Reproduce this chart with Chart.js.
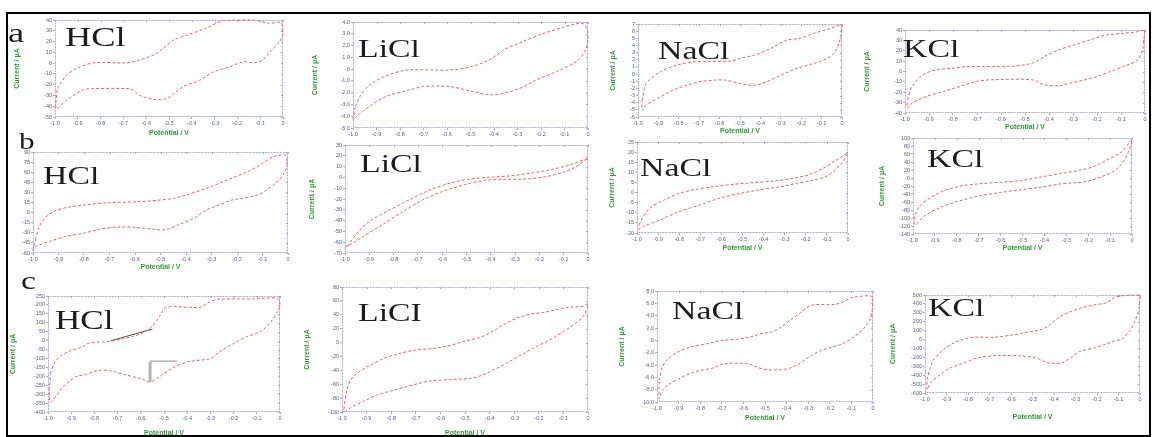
<!DOCTYPE html>
<html>
<head>
<meta charset="utf-8">
<script src="https://cdn.jsdelivr.net/npm/chart.js@4.4.0/dist/chart.umd.min.js"></script>
<style>
    html, body { margin: 0; padding: 0; background: #fff; }
    body { width: 1153px; height: 437px; position: relative; overflow: hidden; }
    #frame { position: absolute; left: 6px; top: 12px; width: 1145px; height: 425px; border: 2px solid #000; box-sizing: border-box; }
    canvas { position: absolute; }
    .tag { position: absolute; font-family: 'Liberation Serif', 'Times New Roman', serif; color: #1c1c1c;
           line-height: 1; transform: scaleX(1.3); transform-origin: 0 0; white-space: nowrap; }
</style>
</head>
<body>
<div id="frame"></div>
<script>
    'use strict';

    // potential axis, shared by every panel
    var potentialRange = [-1.0, 0, 0.1];
    var potentialLabels = ['-1.0', '-0.9', '-0.8', '-0.7', '-0.6', '-0.5', '-0.4', '-0.3', '-0.2', '-0.1', '0'];

    // current axis per panel: [min, max, step]
    var hclA_current = [-50, 40, 10];
    var liclA_current = [-5, 4, 1];
    var naclA_current = [-6, 7, 1];
    var kclA_current = [-40, 40, 10];
    var hclB_current = [-60, 90, 15];
    var liclB_current = [-70, 30, 10];
    var naclB_current = [-20, 25, 5];
    var kclB_current = [-140, 100, 20];
    var hclC_current = [-400, 250, 50];
    var liclC_current = [-100, 80, 20];
    var naclC_current = [-10, 8, 2];
    var kclC_current = [-600, 500, 100];

    // (a) forward / reverse sweeps, [potential, current]
    var hclA_up = [[-0.99, -23.6], [-0.95, -11.2], [-0.905, -5], [-0.83, 0.3], [-0.69, 0.3], [-0.63, 2.8], [-0.555, 9],
        [-0.48, 21.4], [-0.42, 26], [-0.34, 32.2], [-0.26, 39.4], [-0.13, 40], [-0.06, 37], [-0.01, 37.5], [0, 27.6]];
    var hclA_down = [[-0.015, 19.8], [-0.05, 12.1], [-0.09, 2.8], [-0.13, 0.3], [-0.175, 1.2], [-0.235, -3.5], [-0.305, -8.1],
        [-0.365, -15.9], [-0.44, -22.1], [-0.51, -32.9], [-0.57, -33.6], [-0.63, -29.8], [-0.66, -24.6], [-0.69, -23.6],
        [-0.82, -23.6], [-0.875, -24.6], [-0.905, -28.3], [-0.95, -34.5], [-0.995, -42.2]];

    var liclA_up = [[-0.99, -3.17], [-0.97, -2.33], [-0.93, -1.35], [-0.86, -0.58], [-0.77, -0.08], [-0.59, -0.08], [-0.5, 0.2],
        [-0.42, 0.77], [-0.36, 1.61], [-0.28, 2.32], [-0.19, 3.02], [-0.11, 3.52], [-0.02, 3.86], [0, 2.73]];
    var liclA_down = [[-0.01, 1.61], [-0.05, 0.63], [-0.135, -0.22], [-0.22, -0.92], [-0.29, -1.63], [-0.36, -2.05],
        [-0.42, -2.18], [-0.49, -1.9], [-0.59, -1.48], [-0.7, -1.48], [-0.77, -1.82], [-0.86, -2.33], [-0.93, -3.17],
        [-0.985, -4.02], [-1.0, -4.3]];

    var naclA_up = [[-0.98, -3.66], [-0.96, -1.32], [-0.89, 0.32], [-0.81, 1.25], [-0.73, 1.72], [-0.55, 1.81], [-0.5, 2.19],
        [-0.43, 2.65], [-0.35, 3.58], [-0.27, 4.75], [-0.205, 4.99], [-0.14, 5.69], [-0.07, 6.25], [0, 6.86]];
    var naclA_down = [[-0.01, 4.75], [-0.04, 2.88], [-0.09, 1.95], [-0.14, 1.48], [-0.22, 0.78], [-0.3, -0.15], [-0.37, -1.09],
        [-0.43, -1.56], [-0.5, -1.32], [-0.57, -0.85], [-0.63, -0.85], [-0.7, -1.09], [-0.76, -1.56], [-0.83, -2.26],
        [-0.89, -3.19], [-0.96, -4.36], [-0.98, -5.06]];

    var kclA_up = [[-0.99, -27.2], [-0.97, -14.4], [-0.925, -3.2], [-0.87, 1.6], [-0.8, 3.2], [-0.73, 4.8], [-0.57, 4.8],
        [-0.47, 8], [-0.42, 14.4], [-0.36, 20.8], [-0.295, 25.6], [-0.23, 30.4], [-0.16, 35.2], [-0.09, 36.8],
        [-0.03, 38.4], [0, 40]];
    var kclA_down = [[-0.005, 30.4], [-0.01, 20.8], [-0.03, 11.2], [-0.09, 4.8], [-0.145, 0], [-0.2, -4.8], [-0.25, -8],
        [-0.31, -11.2], [-0.36, -13.8], [-0.42, -12.8], [-0.47, -8], [-0.64, -8], [-0.705, -9.6], [-0.77, -14.4],
        [-0.84, -19.2], [-0.91, -24], [-0.97, -30.4], [-0.99, -35.2]];

    // (b)
    var hclB_up = [[-0.99, -40.3], [-0.98, -25.6], [-0.96, -10.8], [-0.92, 1.5], [-0.87, 7.4], [-0.8, 11.3], [-0.7, 14.7],
        [-0.58, 16.2], [-0.5, 18.7], [-0.45, 21.1], [-0.4, 26.1], [-0.32, 35.9], [-0.24, 48.2], [-0.16, 60.5],
        [-0.1, 72.8], [-0.06, 82.6], [-0.01, 85.1]];
    var hclB_down = [[-0.004, 70.3], [-0.02, 55.6], [-0.05, 43.3], [-0.085, 33.4], [-0.12, 26.1], [-0.18, 21.1],
        [-0.22, 18.7], [-0.27, 11.3], [-0.32, 3.9], [-0.37, -8.4], [-0.43, -18.2], [-0.48, -25.5], [-0.53, -24.6],
        [-0.61, -21.6], [-0.67, -21.6], [-0.74, -24.6], [-0.8, -30.5], [-0.87, -35.4], [-0.935, -42.8], [-0.99, -50.2],
        [-1.0, -55.1]];

    var liclB_up = [[-0.99, -63.8], [-0.95, -51.5], [-0.9, -40.8], [-0.815, -30], [-0.73, -20.2], [-0.65, -11.5],
        [-0.57, -5.4], [-0.49, -1.7], [-0.4, 0.2], [-0.32, 1.4], [-0.24, 3.8], [-0.16, 6.9], [-0.075, 11.5], [0, 17.7]];
    var liclB_down = [[-0.05, 10], [-0.1, 4.8], [-0.185, 0.2], [-0.27, -1.7], [-0.35, -1.7], [-0.43, -2.9], [-0.51, -6.9],
        [-0.6, -13.1], [-0.68, -20.8], [-0.76, -31.5], [-0.84, -42.9], [-0.925, -54.6], [-0.98, -62.3], [-1.0, -64.5]];

    var naclB_up = [[-0.99, -15.9], [-0.97, -11.8], [-0.94, -7.7], [-0.87, -3.6], [-0.8, -0.4], [-0.72, 1.6], [-0.64, 2.9],
        [-0.54, 4.1], [-0.45, 4.9], [-0.35, 5.7], [-0.26, 7], [-0.18, 9], [-0.12, 11.9], [-0.055, 16], [0, 19.6]];
    var naclB_down = [[-0.01, 17.6], [-0.03, 14.7], [-0.06, 11.4], [-0.1, 8.1], [-0.165, 6.2], [-0.245, 4.5], [-0.32, 2.9],
        [-0.42, 1.3], [-0.51, -0.4], [-0.61, -2.8], [-0.7, -6.1], [-0.8, -9.4], [-0.89, -13.5], [-0.97, -16.7],
        [-0.99, -18]];

    var kclB_up = [[-0.99, -91.5], [-0.97, -70.2], [-0.92, -49], [-0.86, -32], [-0.79, -21], [-0.71, -15], [-0.6, -10.6],
        [-0.51, -6.4], [-0.42, 2.1], [-0.33, 10.7], [-0.24, 19.1], [-0.18, 27.7], [-0.115, 44.8], [-0.05, 64.3],
        [0, 95.7]];
    var kclB_down = [[-0.01, 74.5], [-0.03, 48.9], [-0.06, 27.7], [-0.09, 14.9], [-0.145, 2.1], [-0.21, -9], [-0.27, -12.3],
        [-0.33, -15], [-0.42, -23.4], [-0.51, -29.4], [-0.6, -36.1], [-0.695, -44.7], [-0.79, -57.4], [-0.88, -74.5],
        [-0.95, -95.8], [-0.99, -117]];

    // (c)
    var hclC_up = [[-0.99, -184.8], [-0.97, -119.2], [-0.94, -81.5], [-0.905, -57.5], [-0.85, -34.7], [-0.82, -12],
        [-0.75, -6.8], [-0.69, 6.3], [-0.63, 25.1], [-0.59, 44], [-0.55, 81.7], [-0.52, 133.7], [-0.49, 186.3],
        [-0.345, 186.3], [-0.31, 212.3], [-0.27, 231.2], [-0.115, 233.1], [-0.01, 237]];
    var hclC_down = [[0, 199.3], [-0.015, 152.5], [-0.045, 96.6], [-0.085, 49.8], [-0.145, 21.2], [-0.2, -15.9],
        [-0.26, -62.6], [-0.3, -100.3], [-0.345, -109.5], [-0.4, -119.2], [-0.46, -151.1], [-0.51, -194],
        [-0.56, -231.6], [-0.6, -212.8], [-0.66, -194], [-0.73, -169.9], [-0.78, -166], [-0.835, -188.1],
        [-0.88, -203], [-0.935, -259.6], [-0.99, -344]];
    // baseline construction for the cathodic peak
    var hclC_tangent = [[-0.73, -1], [-0.55, 64.5]];
    var hclC_peakBar = [[-0.56, -119], [-0.56, -231.6]];
    var hclC_peakBase = [[-0.56, -115], [-0.445, -115]];

    var liclC_up = [[-0.99, -87.9], [-0.98, -68.6], [-0.965, -54.1], [-0.94, -44.5], [-0.885, -32.5], [-0.83, -22.8],
        [-0.765, -15.6], [-0.7, -10.7], [-0.63, -8.4], [-0.56, -4.4], [-0.51, 1.3], [-0.45, 6.2], [-0.4, 13.4],
        [-0.345, 25.5], [-0.29, 35.2], [-0.235, 40.9], [-0.18, 43.3], [-0.13, 47.2], [-0.075, 51], [-0.02, 52.1],
        [0, 55.9]];
    var liclC_down = [[-0.003, 49.6], [-0.02, 37.5], [-0.05, 27.8], [-0.1, 15.7], [-0.155, 3.7], [-0.21, -5.9],
        [-0.26, -15.6], [-0.32, -27.6], [-0.37, -37.2], [-0.43, -46.9], [-0.48, -51.8], [-0.56, -53.2], [-0.64, -55.2],
        [-0.7, -59.9], [-0.75, -64.7], [-0.8, -69.6], [-0.86, -75.9], [-0.91, -84.2], [-0.965, -93.7], [-0.99, -99.1]];

    var naclC_up = [[-0.99, -6.49], [-0.975, -4.33], [-0.955, -3.25], [-0.905, -1.9], [-0.845, -1.09], [-0.78, -0.64],
        [-0.735, -0.26], [-0.69, 0.01], [-0.63, 0.17], [-0.565, 0.55], [-0.52, 1.09], [-0.47, 1.36], [-0.425, 2.17],
        [-0.38, 3.36], [-0.33, 4.6], [-0.285, 5.68], [-0.175, 5.84], [-0.13, 6.38], [-0.1, 6.92], [0, 7.03]];
    var naclC_down = [[-0.005, 4.6], [-0.02, 2.98], [-0.05, 1.63], [-0.1, 0.28], [-0.145, -0.64], [-0.19, -1.09],
        [-0.24, -1.63], [-0.285, -2.44], [-0.33, -3.52], [-0.38, -4.44], [-0.425, -4.76], [-0.49, -4.76],
        [-0.53, -4.44], [-0.58, -3.79], [-0.69, -3.79], [-0.735, -4.44], [-0.78, -4.76], [-0.83, -5.14],
        [-0.89, -6.06], [-0.94, -7.03], [-0.975, -8.11], [-0.99, -9.46]];

    var kclC_up = [[-0.99, -450.4], [-0.975, -309.6], [-0.96, -227.1], [-0.915, -114.9], [-0.87, -41.2], [-0.82, 3.9],
        [-0.775, 25.9], [-0.68, 25.9], [-0.59, 52.3], [-0.53, 78.7], [-0.465, 108.4], [-0.425, 153.5], [-0.39, 228.3],
        [-0.34, 295.4], [-0.28, 350.4], [-0.215, 387.8], [-0.155, 414.2], [-0.11, 481.3], [0, 500]];
    var kclC_down = [[-0.003, 369.1], [-0.01, 295.4], [-0.025, 201.9], [-0.045, 108.4], [-0.08, 14.9], [-0.125, -22.5],
        [-0.17, -58.8], [-0.215, -96.2], [-0.28, -133.6], [-0.325, -208.4], [-0.37, -264.5], [-0.435, -256.8],
        [-0.48, -208.4], [-0.56, -182], [-0.68, -182], [-0.76, -208.4], [-0.82, -264.5], [-0.885, -320.6],
        [-0.93, -395.4], [-0.975, -487.8], [-0.99, -562.6]];

    // panel placement: plot box [left, top, right, bottom], centre of the y title (x) and x title (y)
    var panels = [
        { up: hclA_up, down: hclA_down, current: hclA_current, box: [55, 20, 283, 117], yTitle: 17, xTitle: 133 },
        { up: liclA_up, down: liclA_down, current: liclA_current, digits: 1, box: [353, 22, 588, 128], yTitle: 315, xTitle: null },
        { up: naclA_up, down: naclA_down, current: naclA_current, box: [638, 24, 842, 117], yTitle: 613, xTitle: 131 },
        { up: kclA_up, down: kclA_down, current: kclA_current, box: [905, 30, 1145, 113], yTitle: 867, xTitle: 127 },
        { up: hclB_up, down: hclB_down, current: hclB_current, box: [33, 152, 288, 253], yTitle: null, xTitle: 267 },
        { up: liclB_up, down: liclB_down, current: liclB_current, box: [345, 145, 588, 253], yTitle: 312, xTitle: null },
        { up: naclB_up, down: naclB_down, current: naclB_current, box: [637, 142, 848, 233], yTitle: 612, xTitle: 248 },
        { up: kclB_up, down: kclB_down, current: kclB_current, box: [913, 138, 1132, 234], yTitle: 882, xTitle: 248 },
        { up: hclC_up, down: hclC_down, current: hclC_current, box: [48, 296, 280, 412], yTitle: 13, xTitle: 433,
          marks: true },
        { up: liclC_up, down: liclC_down, current: liclC_current, box: [342, 287, 588, 412], yTitle: 307, xTitle: 433 },
        { up: naclC_up, down: naclC_down, current: naclC_current, digits: 1, box: [657, 291, 873, 402], yTitle: 622, xTitle: 418 },
        { up: kclC_up, down: kclC_down, current: kclC_current, box: [925, 295, 1140, 393], yTitle: 893, xTitle: 417 }
    ];

    // electrolyte names and row letters: [text, left, baseline, size]
    var tags = [
        ['a', 8, 43, 28], ['b', 19, 149, 24], ['c', 21, 290, 26],
        ['HCl', 65, 47, 28], ['LiCl', 358, 58, 26], ['NaCl', 658, 60, 26], ['KCl', 903, 58, 26],
        ['HCl', 43, 185, 26], ['LiCl', 360, 173, 26], ['NaCl', 640, 177, 26], ['KCl', 927, 168, 26],
        ['HCl', 55, 330, 27], ['LiCI', 358, 322, 26], ['NaCl', 672, 320, 26], ['KCl', 928, 317, 26]
    ];

    var frameColor = '#a6a9d6';
    var curveColor = '#e2646a';
    var titleColor = '#2f9a35';
    var tickColor = '#5c5c86';

    // dashed plot border with mirrored tick marks on top and right
    var plotFrame = {
        id: 'plotFrame',
        beforeDatasetsDraw: function (chart) {
            var a = chart.chartArea, ctx = chart.ctx;
            ctx.save();
            ctx.strokeStyle = frameColor;
            ctx.lineWidth = 1;
            ctx.setLineDash([2, 1]);
            ctx.strokeRect(a.left + 0.5, a.top + 0.5, a.right - a.left - 1, a.bottom - a.top - 1);
            ctx.setLineDash([]);
            ctx.beginPath();
            chart.scales.x.ticks.forEach(function (t, i) {
                var px = Math.round(chart.scales.x.getPixelForTick(i)) + 0.5;
                ctx.moveTo(px, a.top);
                ctx.lineTo(px, a.top + 2);
            });
            chart.scales.y.ticks.forEach(function (t, i) {
                var py = Math.round(chart.scales.y.getPixelForTick(i)) + 0.5;
                ctx.moveTo(a.right, py);
                ctx.lineTo(a.right - 2, py);
            });
            ctx.stroke();
            ctx.restore();
        }
    };

    function line(points, color, width, dash) {
        return {
            data: points,
            showLine: true,
            borderColor: color,
            borderWidth: width,
            borderDash: dash,
            pointRadius: 0,
            tension: 0.3,
            clip: 4
        };
    }

    function buildPanel(p) {
        var l = p.box[0], t = p.box[1], r = p.box[2], b = p.box[3];
        var left = p.yTitle !== null ? Math.round(p.yTitle - 4) : l - 20;
        var top = t - 5;
        var right = r + 6;
        var bottom = p.xTitle !== null ? Math.round(p.xTitle + 4) : b + 12;

        var canvas = document.createElement('canvas');
        canvas.width = right - left;
        canvas.height = bottom - top;
        canvas.style.left = left + 'px';
        canvas.style.top = top + 'px';
        document.body.appendChild(canvas);

        var yAxisWidth = l - left;
        var xAxisHeight = bottom - b;
        var digits = p.digits || 0;

        var datasets = [line(p.up.concat(p.down, [p.up[0]]), curveColor, 1, [3, 2])];
        if (p.marks) {
            datasets.push(line(hclC_tangent, '#4a4a4a', 1, []));
            datasets.push(line(hclC_peakBar, '#b4b4b4', 3, []));
            datasets.push(line(hclC_peakBase, '#8a8a8a', 1, []));
        }

        return new Chart(canvas, {
            type: 'scatter',
            data: { datasets: datasets },
            options: {
                responsive: false,
                animation: false,
                devicePixelRatio: 1,
                layout: { padding: { top: 5, right: 6, left: 0, bottom: 0 } },
                plugins: { legend: { display: false }, tooltip: { enabled: false } },
                scales: {
                    x: {
                        type: 'linear',
                        min: potentialRange[0],
                        max: potentialRange[1],
                        afterFit: function (s) { s.height = xAxisHeight; },
                        border: { display: false },
                        grid: { drawOnChartArea: false, drawTicks: true, tickLength: 2, color: frameColor },
                        ticks: {
                            stepSize: potentialRange[2],
                            autoSkip: false,
                            maxRotation: 0,
                            padding: 1,
                            color: tickColor,
                            font: { family: 'Liberation Sans', size: 5.5 },
                            callback: function (v, i) { return potentialLabels[i]; }
                        },
                        title: {
                            display: p.xTitle !== null,
                            text: 'Potential / V',
                            color: titleColor,
                            padding: 0,
                            font: { family: 'Liberation Sans', size: 7, weight: 'bold' }
                        }
                    },
                    y: {
                        type: 'linear',
                        min: p.current[0],
                        max: p.current[1],
                        afterFit: function (s) { s.width = yAxisWidth; },
                        border: { display: false },
                        grid: { drawOnChartArea: false, drawTicks: true, tickLength: 2, color: frameColor },
                        ticks: {
                            stepSize: p.current[2],
                            autoSkip: false,
                            padding: 1,
                            color: tickColor,
                            font: { family: 'Liberation Sans', size: 5.5 },
                            callback: function (v) {
                                return Math.abs(v) < 1e-9 ? '0' : Number(v).toFixed(digits);
                            }
                        },
                        title: {
                            display: p.yTitle !== null,
                            text: 'Current / \u03bcA',
                            color: titleColor,
                            padding: 0,
                            font: { family: 'Liberation Sans', size: 7, weight: 'bold' }
                        }
                    }
                }
            },
            plugins: [plotFrame]
        });
    }

    panels.forEach(buildPanel);

    tags.forEach(function (tag) {
        var el = document.createElement('div');
        el.className = 'tag';
        el.textContent = tag[0];
        el.style.fontSize = tag[3] + 'px';
        el.style.left = tag[1] + 'px';
        el.style.top = Math.round(tag[2] - tag[3] * 0.84) + 'px';
        document.body.appendChild(el);
    });
</script>
</body>
</html>
